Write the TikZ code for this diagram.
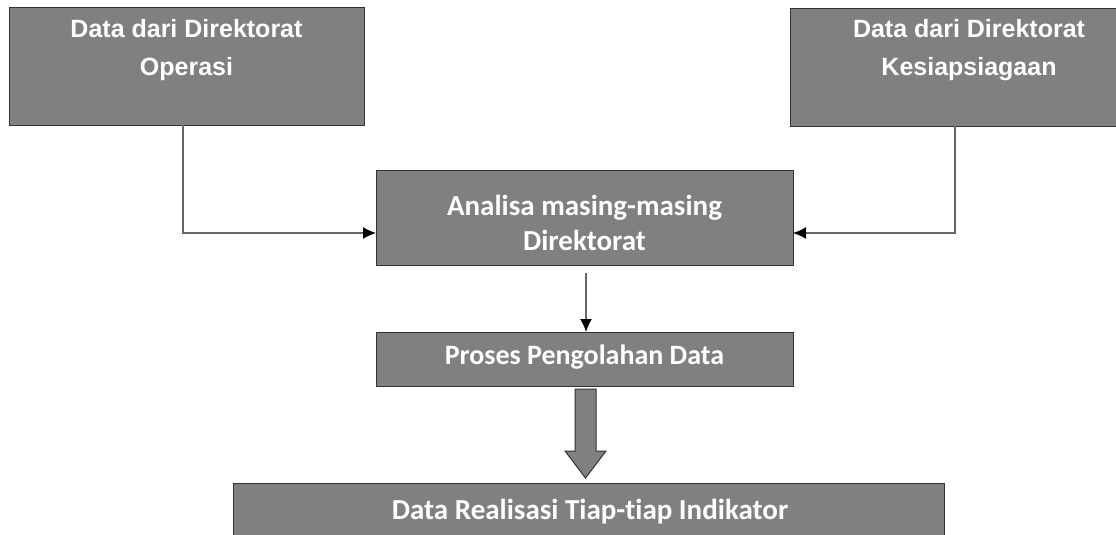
\documentclass[tikz,border=0pt]{standalone}
\usepackage{fontspec}
\newfontfamily\arialf{Liberation Sans}
\newfontfamily\calf{Carlito}[Ligatures=NoCommon]
\usetikzlibrary{arrows.meta,calc}
\definecolor{boxfill}{HTML}{808080}
\definecolor{boxline}{HTML}{333333}
\definecolor{conn}{HTML}{666666}
\tikzset{
  box/.style={draw=boxline,fill=boxfill,line width=1pt,inner sep=0pt,outer sep=0pt},
  lbla/.style={text=white,font=\arialf\bfseries\fontsize{25}{28}\selectfont,anchor=base,inner sep=0pt},
  lblc/.style={text=white,font=\calf\bfseries\fontsize{29}{32}\selectfont,anchor=base,inner sep=0pt},
  conline/.style={draw=conn,line width=1.3pt,-{Latex[black,length=13pt,width=12pt]}},
  blockarrow/.style={draw=boxline,fill=boxfill,line width=1pt,line join=miter}
}
\begin{document}
\begin{tikzpicture}[x=1pt,y=-1pt]
\clip (0,0) rectangle (1116,535);
\fill[white] (0,0) rectangle (1116,535);
% boxes
\node[box,minimum width=355pt,minimum height=117pt] (b1) at (186.5,66.5) {};
\node[box,minimum width=358pt,minimum height=117pt] (b2) at (969,67.5) {};
\node[box,minimum width=417pt,minimum height=95pt] (m) at (584.5,217.5) {};
\node[box,minimum width=417pt,minimum height=54pt] (p) at (584.5,359) {};
\node[box,minimum width=711pt,minimum height=80pt] (r) at (588.5,523) {};
% texts
\node[lbla] (t1a) at (186.5,38) {Data dari Direktorat};
\node[lbla] (t1b) at (186.5,75) {Operasi};
\node[lbla] (t2a) at (969,38) {Data dari Direktorat};
\node[lbla] (t2b) at (969,75) {Kesiapsiagaan};
\node[lblc] (tma) at (584.5,215) {Analisa masing-masing};
\node[lblc] (tmb) at (584.5,250) {Direktorat};
\node[lblc,font=\calf\bfseries\fontsize{28}{32}\selectfont] (tp) at (584.5,364) {Proses Pengolahan Data};
\node[lblc] (tr) at (590,519) {Data Realisasi Tiap-tiap Indikator};
% connectors
\coordinate (lc) at (183,233);
\coordinate (rc) at (955,233);
\draw[conline] (b1.south -| lc) -- (lc) -- (lc -| m.west);
\draw[conline] (b2.south -| rc) -- (rc) -- (rc -| m.east);
\draw[conline] ($(m.south)+(1.5,8)$) -- ($(p.north)+(1.5,0)$);
% block arrow
\draw[blockarrow] ($(p.south)+(-9.5,3)$) -- ++(21,0) -- ++(0,62) -- ++(10,0)
  -- ($(p.south |- r.north)+(1,-5)$) -- ++(-20.5,-27) -- ++(10,0) -- cycle;
\end{tikzpicture}
\end{document}
